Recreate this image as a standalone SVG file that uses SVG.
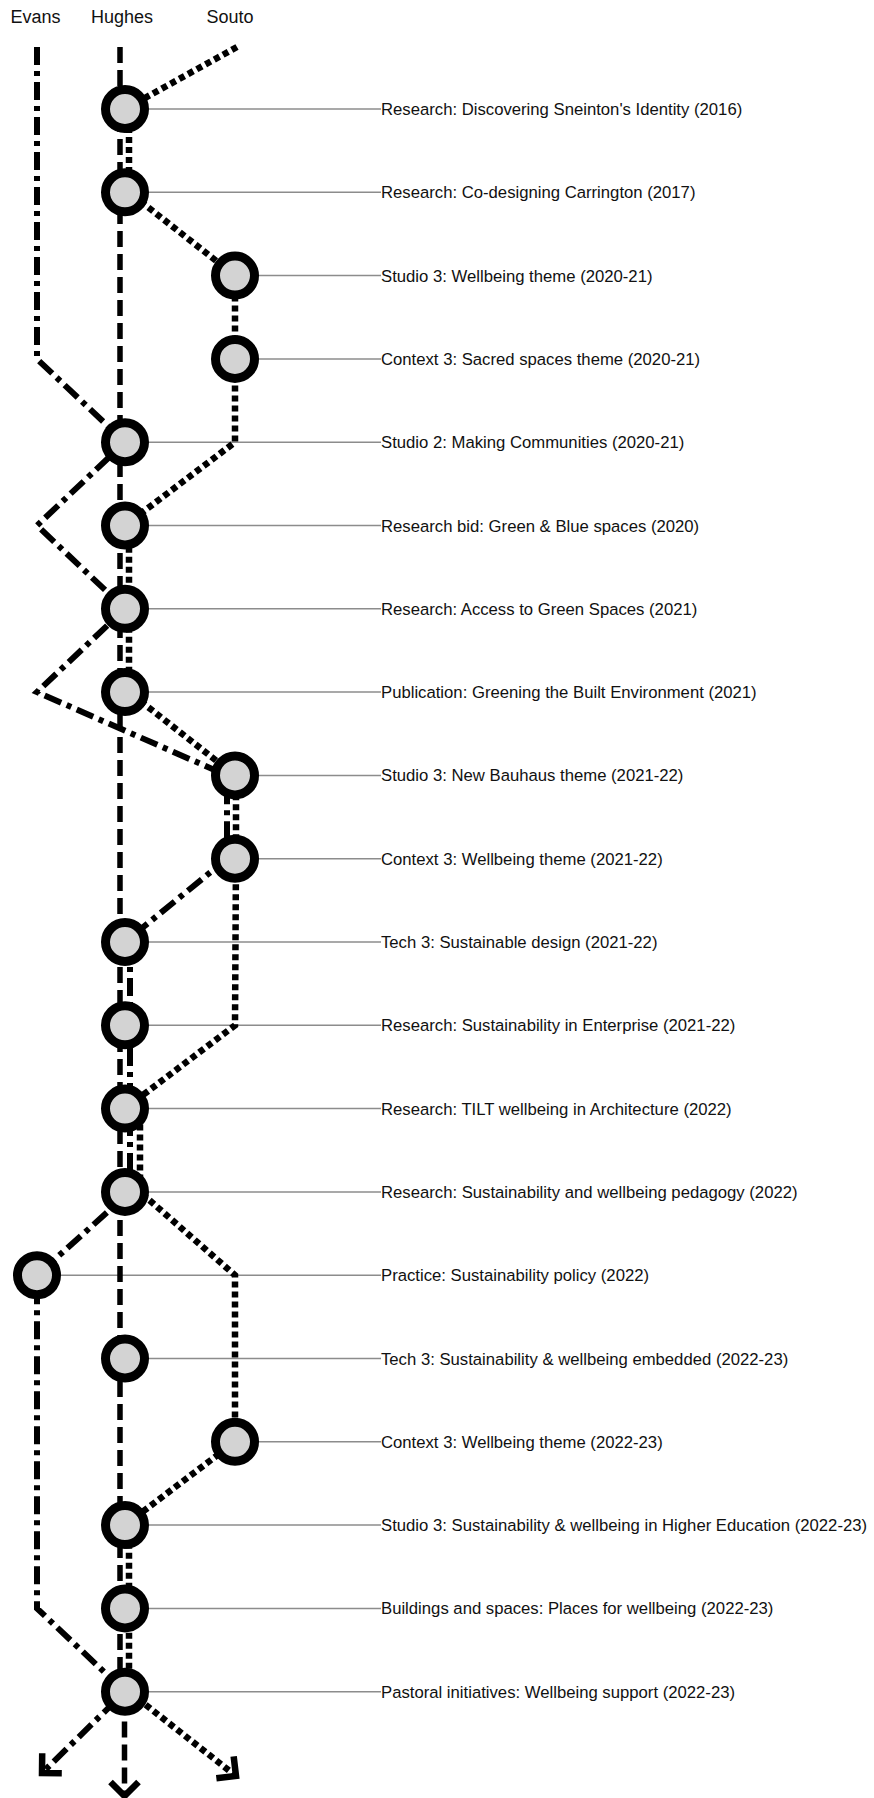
<svg xmlns="http://www.w3.org/2000/svg" width="874" height="1798" viewBox="0 0 874 1798">
<style>
text{font-family:"Liberation Sans",Arial,sans-serif;fill:#111}
.hdr{font-size:18px;text-anchor:middle}
.lbl{font-size:16.7px}
.lead{stroke:#8c8c8c;stroke-width:1.5;fill:none}
.dot{fill:#d3d3d3;stroke:#000;stroke-width:9}
.c{fill:none;stroke:#000;stroke-linejoin:miter;stroke-linecap:butt}
.evans{stroke-width:6;stroke-dasharray:18 6 5 6}
.hughes{stroke-width:5.5;stroke-dasharray:16 7}
.souto{stroke-width:6.5;stroke-dasharray:6 4}
.ah{fill:none;stroke:#000;stroke-width:6.5;stroke-dasharray:none;stroke-linejoin:miter}
</style>
<defs>
<marker id="arr" markerUnits="userSpaceOnUse" orient="auto" refX="0" refY="0" markerWidth="40" markerHeight="40" overflow="visible">
<path class="ah" d="M-14,-14 L0,0 L-14,14"/>
</marker>
</defs>
<g id="headers">
<text class="hdr" x="35.5" y="22.5">Evans</text>
<text class="hdr" x="122" y="22.5">Hughes</text>
<text class="hdr" x="230" y="22.5">Souto</text>
</g>
<g id="leaders">
<line class="lead" x1="125" y1="109" x2="381" y2="109"/>
<line class="lead" x1="125" y1="192.3" x2="381" y2="192.3"/>
<line class="lead" x1="235" y1="275.6" x2="381" y2="275.6"/>
<line class="lead" x1="235" y1="358.9" x2="381" y2="358.9"/>
<line class="lead" x1="125" y1="442.2" x2="381" y2="442.2"/>
<line class="lead" x1="125" y1="525.5" x2="381" y2="525.5"/>
<line class="lead" x1="125" y1="608.8" x2="381" y2="608.8"/>
<line class="lead" x1="125" y1="692.1" x2="381" y2="692.1"/>
<line class="lead" x1="235" y1="775.4" x2="381" y2="775.4"/>
<line class="lead" x1="235" y1="858.7" x2="381" y2="858.7"/>
<line class="lead" x1="125" y1="942" x2="381" y2="942"/>
<line class="lead" x1="125" y1="1025.3" x2="381" y2="1025.3"/>
<line class="lead" x1="125" y1="1108.6" x2="381" y2="1108.6"/>
<line class="lead" x1="125" y1="1191.9" x2="381" y2="1191.9"/>
<line class="lead" x1="37" y1="1275.2" x2="381" y2="1275.2"/>
<line class="lead" x1="125" y1="1358.5" x2="381" y2="1358.5"/>
<line class="lead" x1="235" y1="1441.8" x2="381" y2="1441.8"/>
<line class="lead" x1="125" y1="1525.1" x2="381" y2="1525.1"/>
<line class="lead" x1="125" y1="1608.4" x2="381" y2="1608.4"/>
<line class="lead" x1="125" y1="1691.7" x2="381" y2="1691.7"/>
</g>
<g id="connectors">
<path id="line-evans" class="c evans" d="M37,47 V359 L125,442.2 L37,525.5 L125,608.8 L37,692.1 L227,775.4 V858.7 L125,942 H130 V1191.9 L37,1275.2 V1608.4 L125,1691.7 L42,1773" marker-end="url(#arr)"/>
<path id="line-hughes" class="c hughes" d="M120,47 V1691.7 H124.5 V1796" marker-end="url(#arr)"/>
<path id="line-souto" class="c souto" d="M237,47 L125,109 H129 V192.3 L235,275.6 V442.2 L125,525.5 H129 V692.1 L235,775.4 H236 V858.7 L235,1025.3 L125,1108.6 H140 V1191.9 L235,1275.2 V1441.8 L125,1525.1 H129 V1691.7 L236,1776" marker-end="url(#arr)"/>
</g>
<g id="n0"><circle class="dot" cx="125" cy="109" r="19.5"/><text class="lbl" x="381" y="115">Research: Discovering Sneinton's Identity (2016)</text></g>
<g id="n1"><circle class="dot" cx="125" cy="192.3" r="19.5"/><text class="lbl" x="381" y="198.3">Research: Co-designing Carrington (2017)</text></g>
<g id="n2"><circle class="dot" cx="235" cy="275.6" r="19.5"/><text class="lbl" x="381" y="281.6">Studio 3: Wellbeing theme (2020-21)</text></g>
<g id="n3"><circle class="dot" cx="235" cy="358.9" r="19.5"/><text class="lbl" x="381" y="364.9">Context 3: Sacred spaces theme (2020-21)</text></g>
<g id="n4"><circle class="dot" cx="125" cy="442.2" r="19.5"/><text class="lbl" x="381" y="448.2">Studio 2: Making Communities (2020-21)</text></g>
<g id="n5"><circle class="dot" cx="125" cy="525.5" r="19.5"/><text class="lbl" x="381" y="531.5">Research bid: Green &amp; Blue spaces (2020)</text></g>
<g id="n6"><circle class="dot" cx="125" cy="608.8" r="19.5"/><text class="lbl" x="381" y="614.8">Research: Access to Green Spaces (2021)</text></g>
<g id="n7"><circle class="dot" cx="125" cy="692.1" r="19.5"/><text class="lbl" x="381" y="698.1">Publication: Greening the Built Environment (2021)</text></g>
<g id="n8"><circle class="dot" cx="235" cy="775.4" r="19.5"/><text class="lbl" x="381" y="781.4">Studio 3: New Bauhaus theme (2021-22)</text></g>
<g id="n9"><circle class="dot" cx="235" cy="858.7" r="19.5"/><text class="lbl" x="381" y="864.7">Context 3: Wellbeing theme (2021-22)</text></g>
<g id="n10"><circle class="dot" cx="125" cy="942" r="19.5"/><text class="lbl" x="381" y="948">Tech 3: Sustainable design (2021-22)</text></g>
<g id="n11"><circle class="dot" cx="125" cy="1025.3" r="19.5"/><text class="lbl" x="381" y="1031.3">Research: Sustainability in Enterprise (2021-22)</text></g>
<g id="n12"><circle class="dot" cx="125" cy="1108.6" r="19.5"/><text class="lbl" x="381" y="1114.6">Research: TILT wellbeing in Architecture (2022)</text></g>
<g id="n13"><circle class="dot" cx="125" cy="1191.9" r="19.5"/><text class="lbl" x="381" y="1197.9">Research: Sustainability and wellbeing pedagogy (2022)</text></g>
<g id="n14"><circle class="dot" cx="37" cy="1275.2" r="19.5"/><text class="lbl" x="381" y="1281.2">Practice: Sustainability policy (2022)</text></g>
<g id="n15"><circle class="dot" cx="125" cy="1358.5" r="19.5"/><text class="lbl" x="381" y="1364.5">Tech 3: Sustainability &amp; wellbeing embedded (2022-23)</text></g>
<g id="n16"><circle class="dot" cx="235" cy="1441.8" r="19.5"/><text class="lbl" x="381" y="1447.8">Context 3: Wellbeing theme (2022-23)</text></g>
<g id="n17"><circle class="dot" cx="125" cy="1525.1" r="19.5"/><text class="lbl" x="381" y="1531.1">Studio 3: Sustainability &amp; wellbeing in Higher Education (2022-23)</text></g>
<g id="n18"><circle class="dot" cx="125" cy="1608.4" r="19.5"/><text class="lbl" x="381" y="1614.4">Buildings and spaces: Places for wellbeing (2022-23)</text></g>
<g id="n19"><circle class="dot" cx="125" cy="1691.7" r="19.5"/><text class="lbl" x="381" y="1697.7">Pastoral initiatives: Wellbeing support (2022-23)</text></g>
</svg>
